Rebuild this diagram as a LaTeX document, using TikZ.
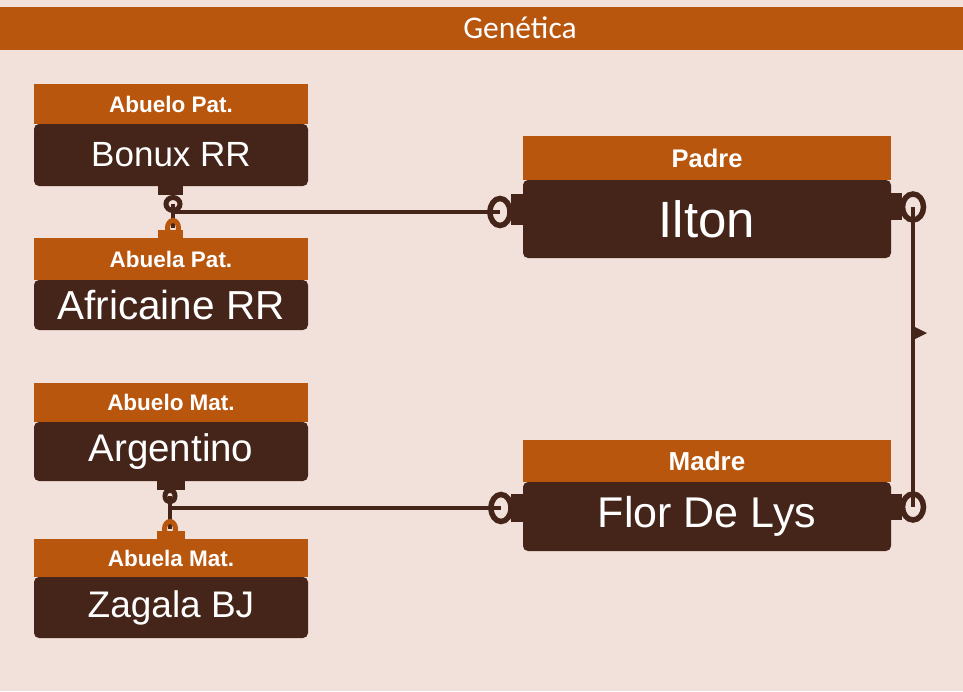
\documentclass[tikz,border=0pt]{standalone}
\usepackage{fontspec}
\setmainfont{Liberation Sans}
\newfontfamily\titlefont{Carlito}
\definecolor{bgc}{HTML}{F2E0DA}
\definecolor{orng}{HTML}{B9560D}
\definecolor{dbrn}{HTML}{45251A}
\begin{document}
\begin{tikzpicture}[x=1pt,y=-1pt,
  hdr/.style={fill=orng,text=white,anchor=north west,inner sep=0pt,outer sep=0pt,
    font=\bfseries\fontsize{22.5}{26}\selectfont},
  bigHdr/.style={hdr,font=\bfseries\fontsize{25.5}{29}\selectfont},
  bodyb/.style={fill=dbrn,text=white,anchor=north west,inner sep=0pt,outer sep=0pt,
    rounded corners=5pt},
  conn/.style={draw=dbrn,line width=3.2pt},
  ring/.style={draw=dbrn,line width=5.5pt},
  sring/.style={draw=dbrn,line width=5pt},
  oring/.style={draw=orng,line width=5pt},
]
\useasboundingbox (0,0) rectangle (963,691);
\fill[bgc] (0,0) rectangle (963,691);
% title bar
\fill[orng] (0,7) rectangle (963,50);
\node[text=white,font=\titlefont\fontsize{31.5}{34}\selectfont] (title) at (520,27.5) {Genética};

% left boxes
\node[hdr,minimum width=274pt,minimum height=40pt] (h1) at (34,84) {Abuelo Pat.};
\node[bodyb,minimum width=274pt,minimum height=62pt,font=\fontsize{35}{40}\selectfont] (b1) at (34,124) {Bonux RR};

\node[hdr,minimum width=274pt,minimum height=42pt] (h2) at (34,238) {Abuela Pat.};
\node[bodyb,minimum width=274pt,minimum height=50pt,font=\fontsize{40.5}{45}\selectfont] (b2) at (34,280) {Africaine RR};

\node[hdr,minimum width=274pt,minimum height=39pt] (h3) at (34,383) {Abuelo Mat.};
\node[bodyb,minimum width=274pt,minimum height=59pt,font=\fontsize{38.5}{43}\selectfont] (b3) at (34,422) {Argentino};

\node[hdr,minimum width=274pt,minimum height=38pt] (h4) at (34,539) {Abuela Mat.};
\node[bodyb,minimum width=274pt,minimum height=61pt,font=\fontsize{37}{42}\selectfont] (b4) at (34,577) {Zagala BJ};

% right boxes
\node[bigHdr,minimum width=368pt,minimum height=44pt] (h5) at (523,136) {Padre};
\node[bodyb,minimum width=368pt,minimum height=78pt,font=\fontsize{51}{56}\selectfont] (b5) at (523,180) {Ilton};

\node[bigHdr,minimum width=368pt,minimum height=42pt,font=\bfseries\fontsize{26}{29}\selectfont] (h6) at (523,440) {Madre};
\node[bodyb,minimum width=368pt,minimum height=69pt,font=\fontsize{43}{48}\selectfont] (b6) at (523,482) {Flor De Lys};

% connector end points
\coordinate (t1) at (173,204);
\coordinate (u1) at (173,228);
\coordinate (j1) at (173,212);
\coordinate (p1) at (500,212);
\coordinate (t2) at (170,496);
\coordinate (u2) at (170,529);
\coordinate (j2) at (170,508);
\coordinate (p2) at (501,508);
\coordinate (pr) at (913,207);
\coordinate (mr) at (913,507);

% paternal grandparents -> Padre
\draw[conn] (t1) -- (u1);
\draw[conn] (j1) -- (p1);
\fill[dbrn] (158,185) rectangle (183,195);
\draw[sring] (t1) ellipse [x radius=7pt, y radius=6.5pt];
\fill[orng] (158,230) rectangle (183,238);
\draw[oring] (u1) ellipse [x radius=5.5pt, y radius=7.5pt];
\fill[dbrn] (511,194) rectangle (523,225);
\draw[ring] (p1) ellipse [x radius=10pt, y radius=13.5pt];

% maternal grandparents -> Madre
\draw[conn] (t2) -- (u2);
\draw[conn] (j2) -- (p2);
\fill[dbrn] (157,480) rectangle (185,490);
\draw[sring] (t2) ellipse [x radius=5pt, y radius=6pt];
\fill[orng] (157,531) rectangle (185,539);
\draw[oring] (u2) ellipse [x radius=5.5pt, y radius=7.5pt];
\fill[dbrn] (511,494) rectangle (523,522);
\draw[ring] (p2) ellipse [x radius=10pt, y radius=13.5pt];

% Padre -> Madre
\draw[conn] (pr) -- (mr);
\fill[dbrn] (890,193) rectangle (902,220);
\draw[ring] (pr) ellipse [x radius=10.5pt, y radius=13pt];
\fill[dbrn] (890,494) rectangle (902,520);
\draw[ring] (mr) ellipse [x radius=10.5pt, y radius=13pt];
\fill[dbrn] (913,326) -- (927,333) -- (913,340) -- cycle;
\end{tikzpicture}
\end{document}
